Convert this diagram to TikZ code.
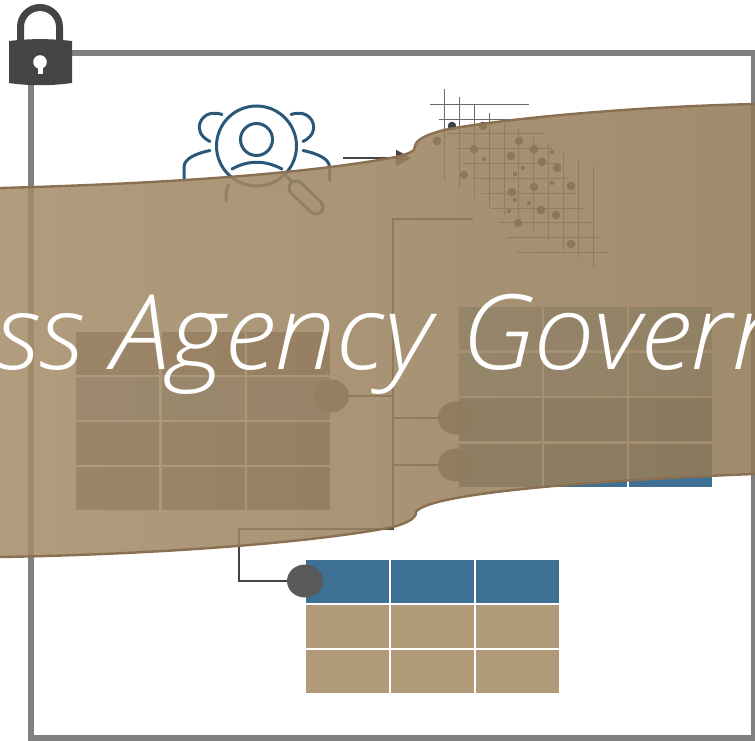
\documentclass[tikz,border=0pt]{standalone}
\usepackage{fontspec}
\usetikzlibrary{arrows.meta}
\usetikzlibrary{shapes.geometric}
\newfontfamily\bannerfont{Open Sans Light}[ItalicFont={Open Sans Light Italic},ItalicFeatures={FakeStretch=1.055}]
\definecolor{tan}{HTML}{B09A78}
\definecolor{steel}{HTML}{3D7092}
\definecolor{ink}{HTML}{2A5878}
\definecolor{slate}{HTML}{444444}
\definecolor{edge}{HTML}{8A7050}
\definecolor{tableA}{HTML}{6C5C64}
\definecolor{tableB}{HTML}{6A8298}
\definecolor{tableC}{HTML}{7BA5BC}
\definecolor{bannerL}{HTML}{A68D6B}
\definecolor{bannerR}{HTML}{937A57}
\definecolor{hubgray}{HTML}{595959}
\tikzset{
	cell/.style={fill=#1,draw=none},
	hub/.style={ellipse,fill=hubgray,draw=none,minimum width=36pt,minimum height=33pt,inner sep=0pt},
	wire/.style={slate,line width=1.2pt},
	icon/.style={ink,line width=3pt,line cap=round}
}
\begin{document}
\begin{tikzpicture}[x=1pt,y=-1pt]
	\useasboundingbox (0,0) rectangle (755,741);
	\draw[gray,line width=5.6pt] (30.8,52.8) rectangle (754,738);

	% person icon
	\draw[icon] (256.5,146) circle (40);
	\draw[icon] (256.5,139.5) circle (16);
	\draw[icon] (232,169) .. controls (248,160) and (265,160) .. (282,169);
	\draw[icon] (222,114.5) .. controls (205,109) and (198,122) .. (199.5,129) .. controls (200,135) and (205,139) .. (210,141.5);
	\draw[icon] (291,114.5) .. controls (308,109) and (315,122) .. (313.5,129) .. controls (313,135) and (308,139) .. (303,141.5);
	\draw[icon] (210,150.5) .. controls (198,153) and (184,158) .. (184,167) -- (184,181);
	\draw[icon] (303,150.5) .. controls (315,153) and (329.5,158) .. (329.5,167) -- (329.5,180);
	\draw[icon] (228.5,185) .. controls (226,190) and (226,195) .. (226,201);
	\draw[icon] (286.5,176) -- (291.5,181.5);
	\draw[ink,line width=17pt,line cap=round] (296,188) -- (316,207);
	\draw[white,line width=11pt,line cap=round] (296,188) -- (316,207);

	\coordinate(ArrowA) at (343,158);
	\coordinate(ArrowB) at (411,158);
	\draw[slate,line width=2pt,-{Triangle[length=15pt,width=16pt]}] (ArrowA) -- (ArrowB);

	% dot grid
	\foreach \i in {0,...,10}{
		\draw[slate!80!white,line width=.8pt] ({444.3+14.9*\i},{89.3+7.8*\i}) -- ({444.3+14.9*\i},{180.7+8.6*\i});
		\draw[slate!80!white,line width=.8pt] ({430+8.6*\i},{104.3+14.8*\i}) -- ({528.7+7.9*\i},{104.3+14.8*\i});
	}
	\foreach \x/\y in {452/126,483/126,437/141,519/141,474/149,534/149,511/156,542/162,557/168,464/175,571/186,534/187,512/192,556/215,541/210,518/223,571/244}
		\fill[slate!95!black] (\x,\y) circle (4.3);
	\foreach \x/\y in {552/152,484/159,523/168,515/174,552/183,515/200,529/203,509/211}
		\fill[slate!95!black] (\x,\y) circle (2.2);

	% tables
	\foreach \x in {76,161.5,246.5}{
		\fill[cell=tableA] (\x,332) rectangle +(83,42.5);
		\fill[cell=tableB] (\x,377) rectangle +(83,42.5);
		\fill[cell=tableA] (\x,422) rectangle +(83,42.5);
		\fill[cell=tableA] (\x,467) rectangle +(83,43);
	}
	\foreach \x in {459,544,629}{
		\fill[cell=tableC] (\x,307) rectangle +(82.5,43);
		\fill[cell=tableC] (\x,352.5) rectangle +(82.5,43);
		\fill[cell=steel] (\x,398) rectangle +(82.5,43);
		\fill[cell=steel] (\x,443.5) rectangle +(82.5,43);
	}
	\foreach \x in {306,391,476}{
		\fill[cell=steel] (\x,560) rectangle +(83,42.5);
		\fill[cell=tan] (\x,605) rectangle +(83,42.5);
		\fill[cell=tan] (\x,650) rectangle +(83,43);
	}

	\node[hub] (HubA) at (331,396) {};
	\node[hub] (HubB) at (456,418) {};
	\node[hub] (HubC) at (456,465) {};
	\node[hub] (HubD) at (305,581) {};
	\coordinate(Top) at (473,219);
	\coordinate(Trunk) at (393,219);
	\coordinate(Foot) at (393,529);
	\coordinate(Bend) at (239,529);
	\coordinate(Turn) at (239,581);
	\draw[wire] (Top) -- (Trunk) -- (Foot) -- (Bend) -- (Turn) -- (HubD);
	\draw[wire] (HubA) -- (HubA -| Trunk);
	\draw[wire] (HubB) -- (HubB -| Trunk);
	\draw[wire] (HubC) -- (HubC -| Trunk);

	% banner
	\shade[left color=bannerL,right color=bannerR,fill opacity=.87] (0,188) .. controls (150,184) and (300,175) .. (396,157) .. controls (408,154) and (416,151) .. (415,146) .. controls (416,140) and (425,135) .. (444,130) .. controls (495,120) and (620,107) .. (755,104) -- (755,474) .. controls (650,478) and (430,490) .. (416,512) .. controls (417,520) and (400,525) .. (393,527) .. controls (300,545) and (130,555) .. (0,557) -- cycle;
	\draw[edge,line width=2.4pt] (0,188) .. controls (150,184) and (300,175) .. (396,157) .. controls (408,154) and (416,151) .. (415,146) .. controls (416,140) and (425,135) .. (444,130) .. controls (495,120) and (620,107) .. (755,104);
	\draw[edge,line width=2.4pt] (755,474) .. controls (650,478) and (430,490) .. (416,512) .. controls (417,520) and (400,525) .. (393,527) .. controls (300,545) and (130,555) .. (0,557);

	\begin{scope}
		\clip (0,0) rectangle (755,741);
		\node[anchor=base,white,inner sep=0pt,font=\bannerfont\itshape\fontsize{104}{104}\selectfont] (Title) at (423,369) {Cross Agency Governance};
	\end{scope}

	% padlock
	\draw[slate,line width=7pt] (20.5,42) -- (20.5,27) arc (180:360:19.5) -- (59.5,42);
	\fill[slate] (9,41) .. controls (30,38.5) and (50,38.5) .. (72,41) -- (72,83) .. controls (50,86) and (30,86) .. (9,83) -- cycle;
	\fill[white] (40,62) circle (6.8);
	\fill[white] (37.5,64) rectangle (42.5,74.5);
\end{tikzpicture}
\end{document}
